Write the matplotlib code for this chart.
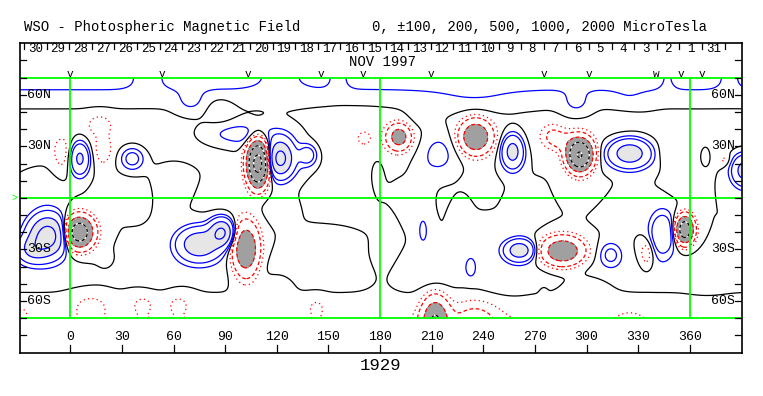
import numpy as np
import matplotlib
matplotlib.use("Agg")
import matplotlib.pyplot as plt

plt.rcParams["font.family"] = ["Liberation Mono", "DejaVu Sans Mono"]

# zonal background bands: centre latitude, amplitude (microTesla), width
band_lat = [72, 35, -42, -80]
band_amp = [190, -45, 35, -140]
band_width = [8, 9, 7, 10]

# flux concentrations: lon, lat, peak, width in lon, width in lat
spot_lon = [109, 122, 138, 125, 100, 191, 235.5, 257, 214, 296, 280, 286, 325, 345,
            392, 369, 380, 36, 5.5, -4.5, 17, 19, 87, 171,
            -13, -22, 5, 88, 75, 102, 212, 235, 261, 286, 314, 344, 357, 335, 205, 232.6,
            12, 42, 63, 143, 275, 325, -28,
            70, 294, 122, 45, 156, 347, 383, 235, 325,
            30, 60, 150, 190, 230, 265, 300, 20, 150, 180, 250, 178, 204, 263, 242,
            -15, 90, 120, 320, 355, 50, 120, 210, 300, 370, 200, 320, 165, 185, 228]
spot_lat = [20, 23, 25, 25, 37, 35.5, 35.5, 27, 27, 25, 37, 33, 26, 26,
            16, 25, 22, 23, 23, 25, 43, 27, 51, 35,
            -22, -30, -20, -20, -27, -30, -72, -70, -30.5, -31, -33, -21, -18.5, -32, -19.5, -40,
            -62, -61, -61, -63, -60, -70, -66,
            56, 55, 72, 72, 72, 72, 72, 57, 57,
            5, 10, 5, 0, 5, -5, 5, -40, -30, -40, -50, 16, 5.5, -11, -23.5,
            5, 0, -5, -5, 10, -45, -48, -45, -50, -45, 45, 45, 20, -20, 0]
spot_amp = [-2500, 1100, 300, 150, 200, -700, -950, 700, 170, -2050, -150, -180, 800, -60,
            700, 115, -110, 300, 600, -140, -140, -130, -70, -110,
            1300, 500, -1500, 1050, 900, -950, -1000, -200, 800, -900, 250, 450, -1500, -200,
            120, 115,
            -110, -95, -95, -90, -60, -70, -60,
            110, 110, -120, -150, -120, -100, -120, 60, 50,
            -40, 40, -40, 35, -35, 40, -35, -35, 40, -40, 40, 60, 70, 60, 40,
            40, -40, 40, 40, -40, 40, -40, 40, -40, 40, 40, -40, -50, -35, 35]
spot_wlon = [3.8, 4.5, 3.5, 12, 16, 4.3, 5.8, 4.2, 8, 4.6, 4.5, 6, 8, 3.5,
             5, 1.5, 2.5, 4.6, 3.7, 4, 5, 4, 5, 2,
             7, 6, 5.5, 4.5, 8, 5, 5, 10, 5.5, 8, 4.3, 5, 3.4, 3, 3, 2.5,
             8, 6, 6, 4, 1.5, 5, 3,
             6, 6, 14, 8, 5, 4, 6, 20, 8,
             10, 8, 10, 8, 12, 8, 10, 10, 12, 8, 10, 3.5, 4, 5, 6,
             8, 10, 8, 8, 6, 8, 8, 8, 10, 8, 6, 8, 18, 4, 6]
spot_wlat = [8, 6.5, 4, 10, 5, 4.8, 6.2, 6.5, 9.5, 5.8, 4.5, 4, 5.5, 5,
             6, 3, 2.5, 4.5, 6.3, 7, 4, 7, 5, 2,
             7.5, 5, 6, 5, 6, 10, 9, 8, 4, 5.5, 4.7, 8.5, 5.2, 6, 8, 5,
             5, 5, 5, 4, 4, 3, 3,
             5, 5, 6, 6, 6, 6, 6, 5, 5,
             6, 8, 8, 10, 8, 8, 6, 6, 8, 8, 5, 9, 9, 6, 8,
             8, 8, 6, 8, 6, 5, 5, 6, 5, 6, 5, 4, 18, 12, 8]

lon_ticks = list(range(0, 361, 30))
lat_ticks = list(range(-80, 81, 10))
lat_labels = {60: "60N", 30: "30N", -30: "30S", -60: "60S"}
day_labels = ["30", "29", "28", "27", "26", "25", "24", "23", "22", "21", "20", "19", "18",
              "17", "16", "15", "14", "13", "12", "11", "10", "9", "8", "7", "6", "5", "4",
              "3", "2", "1", "31"]
day_first = -26.86
day_step = 13.13
obs_marks = [0, 53.5, 103.5, 145.5, 170.3, 209.6, 275.5, 301.6, 355, 367]
obs_double = [340.6]

lon = np.arange(-29.5, 390.01, 0.5)
lat = np.arange(-70, 70.01, 0.5)
LON, LAT = np.meshgrid(lon, lat)
field = np.zeros_like(LON)
for c, a, w in zip(band_lat, band_amp, band_width):
    field += a * np.exp(-(LAT - c) ** 2 / (2 * w ** 2))
for lo, la, a, sx, sy in zip(spot_lon, spot_lat, spot_amp, spot_wlon, spot_wlat):
    field += a * np.exp(-((LON - lo) ** 2 / (2 * sx ** 2) + (LAT - la) ** 2 / (2 * sy ** 2)))

fig = plt.figure(figsize=(7.63, 3.96), dpi=100)
ax = fig.add_axes([19.5 / 763, 43.5 / 396, 722 / 763, 309.2 / 396])
ax.set_xlim(-29.5, 390)
ax.set_ylim(-90, 90)
ax.set_xticks([])
ax.set_yticks([])
for s in ax.spines.values():
    s.set_linewidth(1.2)

big = 1e5
ax.contourf(LON, LAT, field, levels=[-big, -500], colors=["#a0a0a0"])
ax.contourf(LON, LAT, field, levels=[500, big], colors=["#e6e6e6"])
ax.contour(LON, LAT, field, levels=[0], colors="black", linewidths=0.9)
ax.contour(LON, LAT, field, levels=[100, 200, 500, 1000, 2000], colors="#0000ff", linewidths=0.9)
ax.contour(LON, LAT, field, levels=[-100], colors="#ff0000", linewidths=0.9,
           linestyles=[(0, (1, 2.5))])
ax.contour(LON, LAT, field, levels=[-500, -200], colors="#ff0000", linewidths=0.9,
           linestyles=[(0, (3, 2))])
ax.contour(LON, LAT, field, levels=[-2000, -1000], colors="white", linewidths=0.9)
ax.contour(LON, LAT, field, levels=[-2000, -1000], colors="black", linewidths=0.9,
           linestyles=[(0, (2.5, 2))])

green = "#00ff00"
for la in [70, 0, -70]:
    ax.plot([-29.5, 390], [la, la], color=green, lw=1.3)
for lo in [0, 180, 360]:
    ax.plot([lo, lo], [-70, 70], color=green, lw=1.3)
ax.text(-30.5, 0, ">", color=green, ha="right", va="center", fontsize=7)

# frame ticks and labels
for la in lat_ticks:
    ax.plot([-29.5, -26], [la, la], color="black", lw=0.9)
    ax.plot([386.5, 390], [la, la], color="black", lw=0.9)
for la, txt in lat_labels.items():
    ax.text(-25.3, la, txt, ha="left", va="center", fontsize=9.5)
    ax.text(386.3, la, txt, ha="right", va="center", fontsize=9.5)
for lo in lon_ticks:
    ax.plot([lo, lo], [-90, -85.5], color="black", lw=0.9)
    ax.text(lo, -81.1, str(lo), ha="center", va="center", fontsize=9.5)

day_edges = [day_first + day_step * k for k in range(len(day_labels) + 1)]
for e in day_edges:
    ax.plot([e, e], [90, 86.5], color="black", lw=0.9)
for k, txt in enumerate(day_labels):
    ax.text((day_edges[k] + day_edges[k + 1]) / 2, 86.6, txt, ha="center", va="center",
            fontsize=9)
ax.text(181.7, 79.1, "NOV 1997", ha="center", va="center", fontsize=10)
for lo in obs_marks:
    ax.text(lo, 70.6, "v", ha="center", va="baseline", fontsize=8)
for lo in obs_double:
    ax.text(lo, 70.6, "w", ha="center", va="baseline", fontsize=8)

fig.text(24 / 763, 1 - 27.5 / 396, "WSO - Photospheric Magnetic Field", ha="left",
         va="center", fontsize=10)
fig.text(371.5 / 763, 1 - 27.5 / 396, "0, \u00b1100, 200, 500, 1000, 2000 MicroTesla",
         ha="left", va="center", fontsize=10)
fig.text(380 / 763, 1 - 366 / 396, "1929", ha="center", va="center", fontsize=12.5)

fig.savefig("out.png", dpi=100)
